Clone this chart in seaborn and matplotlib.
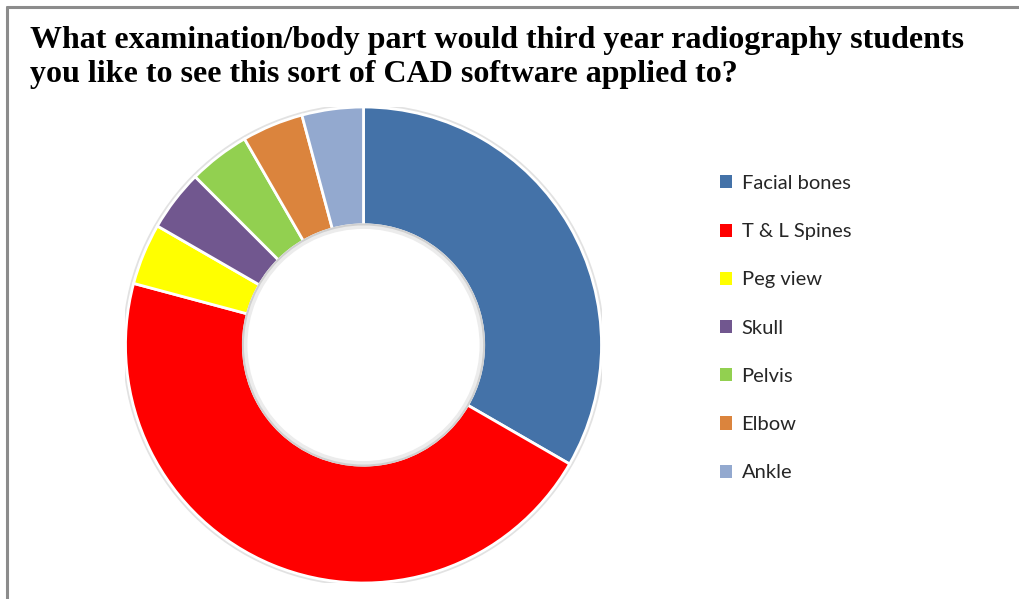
import matplotlib
matplotlib.use("Agg")
import matplotlib.pyplot as plt
from matplotlib.patches import Patch, Circle
import seaborn as sns

# Survey responses: number of students choosing each examination / body part
categories = ["Facial bones", "T & L Spines", "Peg view", "Skull", "Pelvis", "Elbow", "Ankle"]
counts = [8, 11, 1, 1, 1, 1, 1]
colours = ["#4472A8", "#FF0000", "#FFFF00", "#71578F", "#92D050", "#DB843D", "#93A9CF"]

title_lines = [
    "What examination/body part would third year radiography students",
    "you like to see this sort of CAD software applied to?",
]

sns.set_theme(style="white")
palette = sns.color_palette(colours)

W, H = 1020, 599
fig = plt.figure(figsize=(W / 100, H / 100), dpi=100)
fig.patch.set_facecolor("white")

# Doughnut axes: centre at (363.5, 345) px, outer radius 238 px
cx, cy, r = 363.5, 345, 238
ax = fig.add_axes([(cx - r) / W, (H - cy - r) / H, 2 * r / W, 2 * r / H])

# faint shadow rings around the outer edge and the hole
ax.add_patch(Circle((0, 0), 1.006, facecolor="none", edgecolor="#e2e2e2", lw=2.5, zorder=0))
wedges, _ = ax.pie(
    counts,
    colors=palette,
    startangle=90,
    counterclock=False,
    radius=1.0,
    wedgeprops=dict(width=0.495, edgecolor="white", linewidth=2),
)
ax.add_patch(Circle((0, 0), 0.505, facecolor="white", edgecolor="#d0d0d0", lw=2.0, zorder=5))
ax.add_patch(Circle((0, 0), 0.495, facecolor="white", edgecolor="#ececec", lw=2.5, zorder=6))
ax.set_xlim(-1, 1)
ax.set_ylim(-1, 1)
ax.set_aspect("equal")
ax.axis("off")

# Title, two lines, serif bold
for i, line in enumerate(title_lines):
    fig.text(30 / W, 1 - (48 + 34 * i) / H, line, fontsize=23, fontweight="bold",
             family="Liberation Serif", ha="left", va="baseline", color="black")

# Legend
handles = [Patch(facecolor=c, edgecolor="none") for c in palette]
leg = fig.legend(handles, categories, loc="upper left",
                 bbox_to_anchor=(720 / W, 1 - 175 / H),
                 frameon=False, prop=dict(family="Lato", size=14.5),
                 handlelength=0.62, handleheight=0.62, handletextpad=0.45,
                 labelspacing=1.55, borderpad=0, borderaxespad=0)

# Chart-area border on the top and left edges
fig.add_artist(plt.Line2D([7 / W, 7 / W], [0, 1 - 7 / H], color="#8c8c8c", lw=2.2,
                          transform=fig.transFigure))
fig.add_artist(plt.Line2D([7 / W, 1], [1 - 7 / H, 1 - 7 / H], color="#8c8c8c", lw=2.2,
                          transform=fig.transFigure))

fig.savefig("out.png", dpi=100, facecolor="white")
